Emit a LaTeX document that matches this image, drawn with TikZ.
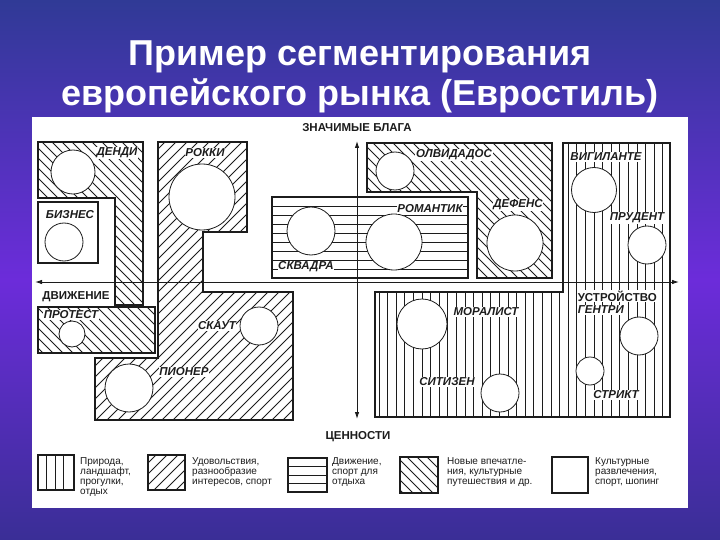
\documentclass[tikz,border=0pt]{standalone}
\usepackage{fontspec}
\setmainfont{Liberation Sans}
\usetikzlibrary{arrows.meta}
\definecolor{bgtop}{RGB}{48,58,150}
\definecolor{bgmid}{RGB}{108,44,218}
\definecolor{bgbot}{RGB}{58,46,150}
\definecolor{ink}{RGB}{28,28,28}
\tikzset{
  seg/.style={circle,draw=ink,fill=white,line width=0.8pt,inner sep=0pt},
  lab/.style={font=\fontsize{11.5}{12}\selectfont\bfseries\itshape,fill=white,inner sep=0.6pt,text=ink},
  axlab/.style={font=\fontsize{11.5}{12}\selectfont\bfseries,text=ink,inner sep=0.6pt},
  legtxt/.style={font=\fontsize{10}{10}\selectfont,text=ink,align=left,anchor=north west,inner sep=0pt},
  hatch/.style={line width=0.9pt,draw=ink},
  border/.style={line width=1.1pt,draw=ink},
  axis/.style={line width=0.9pt,draw=ink,{Latex[length=7pt,width=4.5pt]}-{Latex[length=7pt,width=4.5pt]}},
  title/.style={font=\fontsize{36}{40}\selectfont\bfseries,text=white,anchor=base}
}
\begin{document}
\begin{tikzpicture}[x=1pt,y=-1pt]
\useasboundingbox (0,0) rectangle (720,540);
\shade[top color=bgtop,bottom color=bgmid] (0,0) rectangle (720,280);
\shade[top color=bgmid,bottom color=bgbot] (0,279.5) rectangle (720,540);
\node[title] (title1) at (360,66) {Пример сегментирования};
\node[title] (title2) at (360,106) {европейского рынка (Евростиль)};
\fill[white] (32,117) rectangle (688,508);

\begin{scope}
\clip (38,142) -- (143,142) -- (143,305) -- (115,305) -- (115,198) -- (38,198) -- cycle
      (38,307) rectangle (155,353)
      (367,143) -- (552,143) -- (552,278) -- (477,278) -- (477,192) -- (367,192) -- cycle;
\foreach \k in {-300,-290,...,560}
  \draw[hatch] (\k,130) -- (\k+300,430);
\end{scope}
\begin{scope}
\clip (158,142) -- (247,142) -- (247,232) -- (203,232) -- (203,292) -- (293,292) -- (293,420) -- (95,420) -- (95,358) -- (158,358) -- cycle;
\foreach \k in {100,111,...,600}
  \draw[hatch] (\k,130) -- (\k-300,430);
\end{scope}
\begin{scope}
\clip (272,197) rectangle (468,278);
\foreach \y in {206,215,...,274}
  \draw[hatch] (272,\y) -- (468,\y);
\end{scope}
\begin{scope}
\clip (563,143) -- (670,143) -- (670,417) -- (375,417) -- (375,292) -- (563,292) -- cycle;
\foreach \x in {379,387.6,...,668}
  \draw[hatch] (\x,140) -- (\x,420);
\end{scope}

\draw[border] (38,142) -- (143,142) -- (143,305) -- (115,305) -- (115,198) -- (38,198) -- cycle;
\draw[border] (38,202) rectangle (98,263);
\draw[border] (38,307) rectangle (155,353);
\draw[border] (158,142) -- (247,142) -- (247,232) -- (203,232) -- (203,292) -- (293,292) -- (293,420) -- (95,420) -- (95,358) -- (158,358) -- cycle;
\draw[border] (272,197) rectangle (468,278);
\draw[border] (367,143) -- (552,143) -- (552,278) -- (477,278) -- (477,192) -- (367,192) -- cycle;
\draw[border] (563,143) -- (670,143) -- (670,417) -- (375,417) -- (375,292) -- (563,292) -- cycle;

\coordinate (west) at (35,282);
\coordinate (east) at (679,282);
\coordinate (north) at (357,141);
\coordinate (south) at (357,419);
\draw[axis] (west) -- (east);
\draw[axis] (north) -- (south);

\node[seg,minimum size=44pt] (dandy) at (73,172) {};
\node[seg,minimum size=38pt] (business) at (64,242) {};
\node[seg,minimum size=66pt] (rocky) at (202,197) {};
\node[seg,minimum size=26pt] (protest) at (72,334) {};
\node[seg,minimum size=38pt] (scout) at (259,326) {};
\node[seg,minimum size=48pt] (pioneer) at (129,388) {};
\node[seg,minimum size=48pt] (squadra) at (311,231) {};
\node[seg,minimum size=56pt] (romantic) at (394,242) {};
\node[seg,minimum size=38pt] (olvidados) at (395,171) {};
\node[seg,minimum size=56pt] (defense) at (515,243) {};
\node[seg,minimum size=45pt] (vigilante) at (594,190) {};
\node[seg,minimum size=38pt] (prudent) at (647,245) {};
\node[seg,minimum size=50pt] (moralist) at (422,324) {};
\node[seg,minimum size=38pt] (citizen) at (500,393) {};
\node[seg,minimum size=38pt] (gentry) at (639,336) {};
\node[seg,minimum size=28pt] (strict) at (590,371) {};

\node[lab] (dandylab) at (117,153) {ДЕНДИ};
\node[lab] (rockylab) at (205,153) {РОККИ};
\node[lab] (businesslab) at (70,215) {БИЗНЕС};
\node[lab] (protestlab) at (71,315) {ПРОТЕСТ};
\node[lab] (scoutlab) at (217,326) {СКАУТ};
\node[lab] (pioneerlab) at (184,372) {ПИОНЕР};
\node[lab] (squadralab) at (306,267) {СКВАДРА};
\node[lab] (romanticlab) at (430,209) {РОМАНТИК};
\node[lab] (olvidadoslab) at (454,155) {ОЛВИДАДОС};
\node[lab] (defenselab) at (518,205) {ДЕФЕНС};
\node[lab] (vigilantelab) at (606,157) {ВИГИЛАНТЕ};
\node[lab] (prudentlab) at (637,218) {ПРУДЕНТ};
\node[lab] (moralistlab) at (486,312) {МОРАЛИСТ};
\node[lab] (citizenlab) at (447,382) {СИТИЗЕН};
\node[lab,anchor=west] (gentrylab) at (577,310) {ГЕНТРИ};
\node[lab] (strictlab) at (616,395) {СТРИКТ};

\node[axlab] (goods) at (357,128) {ЗНАЧИМЫЕ БЛАГА};
\node[axlab] (values) at (358,437) {ЦЕННОСТИ};
\node[axlab] (motion) at (76,297) {ДВИЖЕНИЕ};
\node[axlab,fill=white,anchor=west] (order) at (577,296) {УСТРОЙСТВО};

\begin{scope}
\clip (38,455) rectangle (74,490);
\foreach \x in {46.5,55,63.5}
  \draw[hatch] (\x,450) -- (\x,495);
\end{scope}
\begin{scope}
\clip (148,455) rectangle (185,490);
\foreach \k in {150,161,...,230}
  \draw[hatch] (\k,450) -- (\k-45,495);
\end{scope}
\begin{scope}
\clip (288,458) rectangle (327,492);
\foreach \y in {466.5,475,483.5}
  \draw[hatch] (285,\y) -- (330,\y);
\end{scope}
\begin{scope}
\clip (400,457) rectangle (438,493);
\foreach \k in {350,360,...,440}
  \draw[hatch] (\k,450) -- (\k+45,495);
\end{scope}
\draw[border] (38,455) rectangle (74,490);
\draw[border] (148,455) rectangle (185,490);
\draw[border] (288,458) rectangle (327,492);
\draw[border] (400,457) rectangle (438,493);
\draw[border] (552,457) rectangle (588,493);

\node[legtxt] (nature) at (80,457) {Природа,\\ландшафт,\\прогулки,\\отдых};
\node[legtxt] (pleasure) at (192,457) {Удовольствия,\\разнообразие\\интересов, спорт};
\node[legtxt] (sport) at (332,457) {Движение,\\спорт для\\отдыха};
\node[legtxt] (travel) at (447,457) {Новые впечатле-\\ния, культурные\\путешествия и др.};
\node[legtxt] (culture) at (595,457) {Культурные\\развлечения,\\спорт, шопинг};
\end{tikzpicture}
\end{document}
